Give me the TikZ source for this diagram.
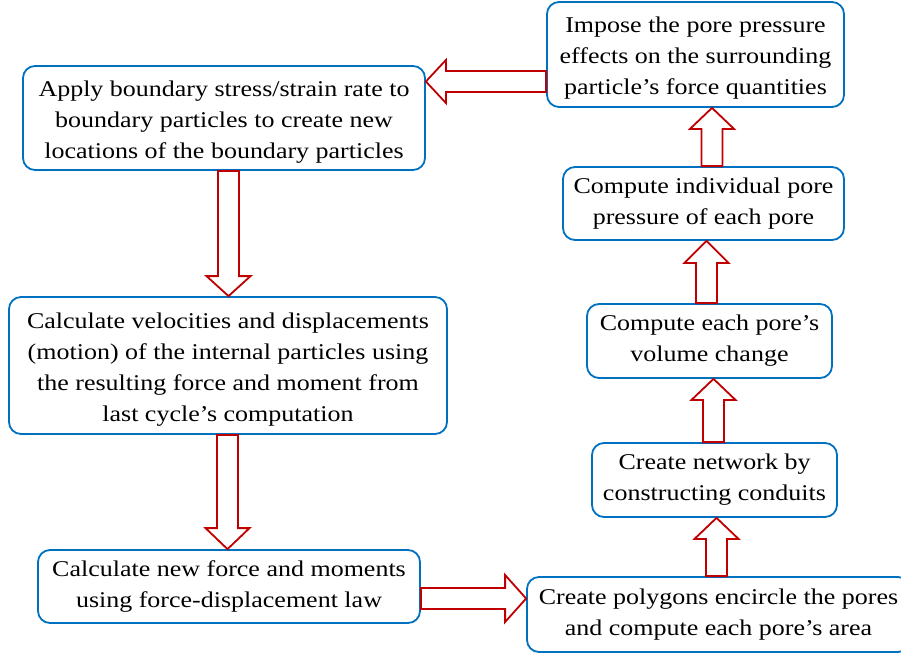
\documentclass[tikz,border=0pt]{standalone}
\usepackage{fontspec}
\setmainfont{Liberation Serif}[FakeStretch=1.155]
\usetikzlibrary{calc}
\definecolor{boxblue}{RGB}{0,112,192}
\definecolor{arrowred}{RGB}{192,0,0}

% taller first line: sets a text block a little lower in its box
\newcommand\leadstrut{\rule{0pt}{23pt}}

% vertical block arrows: #1 start node, #2 end node, #3 centre x, #4 head length
\newcommand\downblock[4]{%
  \draw[blockarrow] (#3-10.5,0 |- #1.south)
    -- ($(#3,0 |- #2.north)+(-10.5,-#4)$) -- ++(-11.5,0)
    -- (#3,0 |- #2.north)
    -- ($(#3,0 |- #2.north)+(22,-#4)$) -- ++(-11.5,0)
    -- (#3+10.5,0 |- #1.south) -- cycle;}
\newcommand\upblock[4]{%
  \draw[blockarrow] (#3-10.5,0 |- #1.north)
    -- ($(#3,0 |- #2.south)+(-10.5,#4)$) -- ++(-11.5,0)
    -- (#3,0 |- #2.south)
    -- ($(#3,0 |- #2.south)+(22,#4)$) -- ++(-11.5,0)
    -- (#3+10.5,0 |- #1.north) -- cycle;}

\begin{document}
\begin{tikzpicture}[x=1pt,y=-1pt,
  stepbox/.style={draw=boxblue, line width=1.8pt, rounded corners=12pt,
    fill=white, align=center, inner sep=0pt, text=black,
    font=\fontsize{22.5}{31}\selectfont},
  blockarrow/.style={draw=arrowred, line width=1.8pt, fill=white, line join=miter}]
\useasboundingbox (0,0) rectangle (901,653);

% process boxes
\node[stepbox, minimum width=402pt, minimum height=104pt] (A) at (224,118)
  {\leadstrut Apply boundary stress/strain rate to\\boundary particles to create new\\locations of the boundary particles};
\node[stepbox, minimum width=438pt, minimum height=137pt] (B) at (228,365.5)
  {\leadstrut Calculate velocities and displacements\\(motion) of the internal particles using\\the resulting force and moment from\\last cycle’s computation};
\node[stepbox, minimum width=382pt, minimum height=73pt] (C) at (229,586.5)
  {Calculate new force and moments\\using force-displacement law};
\node[stepbox, minimum width=383pt, minimum height=75pt] (D) at (718.5,614.5)
  {Create polygons encircle the pores\\and compute each pore’s area};
\node[stepbox, minimum width=245pt, minimum height=74pt] (E) at (714.5,480)
  {Create network by\\constructing conduits};
\node[stepbox, minimum width=245pt, minimum height=74pt] (F) at (709.5,341)
  {Compute each pore’s\\volume change};
\node[stepbox, minimum width=281pt, minimum height=73pt] (G) at (703.5,203.5)
  {Compute individual pore\\pressure of each pore};
\node[stepbox, minimum width=297pt, minimum height=105pt] (H) at (695.5,54.5)
  {\leadstrut Impose the pore pressure\\effects on the surrounding\\particle’s force quantities};

% block arrows between the boxes
\downblock{A}{B}{228.5}{20}
\downblock{B}{C}{227.5}{21}
\draw[blockarrow] (C.east |- 0,588)
  -- ($(D.west |- 0,598.5)+(-21,-10.5)$) -- ++(0,-13)
  -- (D.west |- 0,598.5)
  -- ($(D.west |- 0,598.5)+(-21,23.5)$) -- ++(0,-13)
  -- (C.east |- 0,609) -- cycle;
\upblock{D}{E}{716.5}{21}
\upblock{E}{F}{713.5}{21}
\upblock{F}{G}{706.5}{22}
\upblock{G}{H}{712}{21}
\draw[blockarrow] (H.west |- 0,71)
  -- ($(A.east |- 0,81.5)+(20,-10.5)$) -- ++(0,-11)
  -- (A.east |- 0,81.5)
  -- ($(A.east |- 0,81.5)+(20,21.5)$) -- ++(0,-11)
  -- (H.west |- 0,92) -- cycle;
\end{tikzpicture}
\end{document}
